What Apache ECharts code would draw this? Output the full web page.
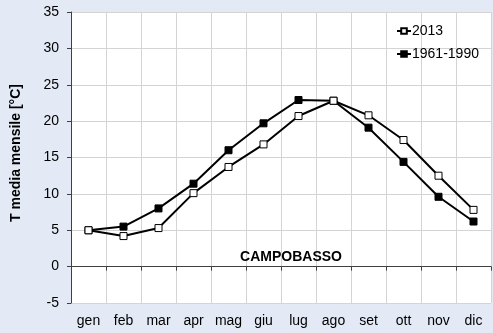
<!DOCTYPE html>
<html>
<head>
<meta charset="utf-8">
<style>
  html, body { margin: 0; padding: 0; background: #e3eaf5; }
  #chart { width: 493px; height: 333px; }
</style>
<script src="https://cdn.jsdelivr.net/npm/echarts@6/dist/echarts.min.js"></script>
</head>
<body>
<div id="chart"></div>
<script>
// Monthly mean temperature, Campobasso
const months = ['gen', 'feb', 'mar', 'apr', 'mag', 'giu', 'lug', 'ago', 'set', 'ott', 'nov', 'dic'];
const temp2013 = [5.0, 4.2, 5.3, 10.1, 13.7, 16.8, 20.7, 22.8, 20.8, 17.4, 12.5, 7.8];
const temp1961_1990 = [5.0, 5.5, 8.0, 11.4, 16.0, 19.7, 22.9, 22.8, 19.1, 14.4, 9.6, 6.2];
const yTicks = { min: -5, max: 35, step: 5 };

const font = 'Liberation Sans, Arial, sans-serif';
const chart = echarts.init(document.getElementById('chart'), null, { renderer: 'canvas' });

chart.setOption({
  backgroundColor: '#e3eaf5',
  animation: false,
  textStyle: { fontFamily: font },
  grid: {
    left: 71, right: 2, top: 12, bottom: 30,
    show: true, backgroundColor: '#ffffff', borderWidth: 0
  },
  title: {
    text: 'CAMPOBASSO',
    left: 286, top: 245, textAlign: 'center',
    textStyle: { fontFamily: font, fontSize: 14, fontWeight: 'bold', color: '#000' }
  },
  graphic: [{
    type: 'text',
    x: 16, y: 153,
    rotation: Math.PI / 2,
    style: {
      text: 'T media mensile [°C]',
      font: 'bold 14px Liberation Sans, Arial, sans-serif',
      fill: '#000',
      textAlign: 'center',
      textVerticalAlign: 'middle'
    }
  }],
  legend: {
    orient: 'vertical',
    left: 391, top: 19,
    itemWidth: 14, itemHeight: 7, itemGap: 9,
    textStyle: { fontFamily: font, fontSize: 14, color: '#000', padding: [0, 0, 0, -4] },
    data: ['2013', '1961-1990']
  },
  xAxis: {
    type: 'category',
    data: months,
    boundaryGap: true,
    axisLine: { lineStyle: { color: '#404040', width: 1 } },
    axisTick: { show: true, interval: 0, length: 4, lineStyle: { color: '#404040' } },
    axisLabel: { interval: 0, fontSize: 14, color: '#000', margin: 11, fontFamily: font },
    splitLine: { show: true, interval: 0, lineStyle: { color: '#d4d4d4', width: 1 } }
  },
  yAxis: {
    type: 'value',
    min: yTicks.min, max: yTicks.max, interval: yTicks.step,
    axisLine: { show: true, lineStyle: { color: '#404040', width: 1 } },
    axisTick: { show: true, length: 4, lineStyle: { color: '#404040' } },
    axisLabel: { fontSize: 14, color: '#000', margin: 12, fontFamily: font },
    splitLine: { show: true, lineStyle: { color: '#d4d4d4', width: 1 } }
  },
  series: [
    {
      name: '2013',
      type: 'line',
      data: temp2013,
      symbol: 'rect',
      symbolSize: 7,
      lineStyle: { color: '#000', width: 2 },
      itemStyle: { color: '#ffffff', borderColor: '#000', borderWidth: 1 },
      z: 3
    },
    {
      name: '1961-1990',
      type: 'line',
      data: temp1961_1990,
      symbol: 'rect',
      symbolSize: 7,
      lineStyle: { color: '#000', width: 2 },
      itemStyle: { color: '#000', borderColor: '#000', borderWidth: 1 },
      z: 2
    }
  ]
});
</script>
</body>
</html>
